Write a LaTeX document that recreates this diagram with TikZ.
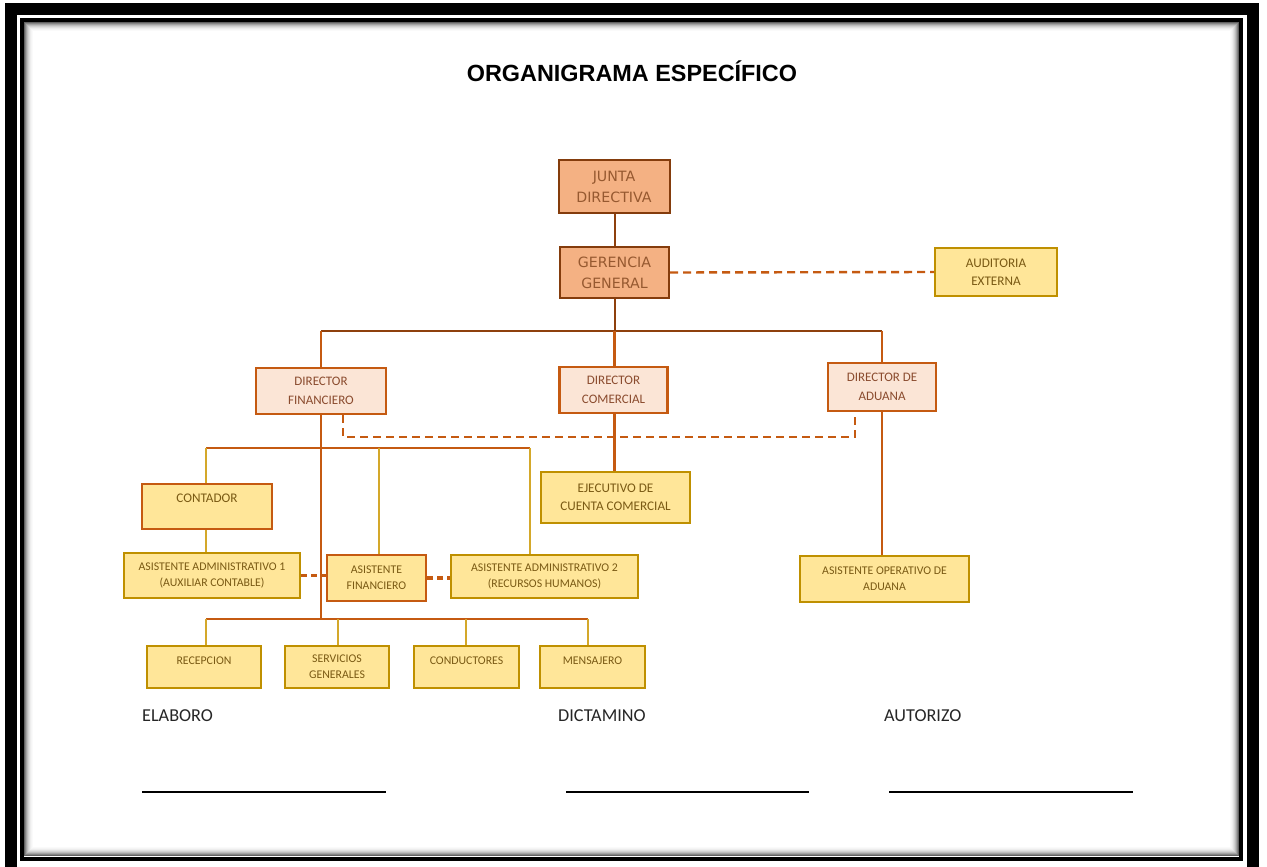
\documentclass[tikz,border=0pt]{standalone}
\usepackage{fontspec}
\setmainfont{Carlito}
\newfontfamily\titlefont{Liberation Sans}
\newfontfamily\handfont{DejaVu Sans}
\usetikzlibrary{calc}

\definecolor{salmon}{HTML}{F4B183}
\definecolor{rust}{HTML}{843C0C}
\definecolor{peach}{HTML}{FBE5D6}
\definecolor{burnt}{HTML}{C55A11}
\definecolor{butter}{HTML}{FFE699}
\definecolor{gold}{HTML}{BF9000}
\definecolor{thingold}{HTML}{D4A82A}
\definecolor{olivetext}{HTML}{7A5A14}
\definecolor{browntext}{HTML}{8A4B2E}

\tikzset{
  headbox/.style={draw=rust, fill=salmon, line width=2pt, inner sep=0pt, align=center,
    text=rust!85, font=\handfont\fontsize{14.2}{21}\selectfont},
  dirbox/.style={draw=burnt, fill=peach, line width=2.4pt, inner sep=0pt, align=center,
    text=browntext, font=\fontsize{13}{19}\selectfont},
  unitbox/.style={draw=gold, fill=butter, line width=2pt, inner sep=0pt, align=center,
    text=olivetext, font=\fontsize{11.8}{16}\selectfont},
  bigunit/.style={unitbox, font=\fontsize{13.2}{18}\selectfont},
  rustline/.style={draw=rust!85!burnt, line width=2pt},
  orangeline/.style={draw=burnt, line width=2.2pt},
  goldline/.style={draw=thingold, line width=1.2pt},
  dashlink/.style={draw=burnt, line width=2.4pt, dash pattern=on 8pt off 5pt},
  shortdash/.style={draw=burnt, line width=3.5pt, dash pattern=on 6pt off 4pt},
  signtext/.style={anchor=base west, inner sep=0pt, font=\fontsize{18.2}{20}\selectfont, text=black!85},
  signline/.style={draw=black, line width=2pt}
}

\begin{document}
\begin{tikzpicture}[x=1pt,y=-1pt]
\useasboundingbox (0,0) rectangle (1267,867);
\fill[white] (0,0) rectangle (1267,867);

% page frame: heavy outer band, thin inner rule with a soft inner shadow
\draw[line width=12pt] (11,9) rectangle (1253,874);
\draw[line width=4pt] (22,20) rectangle (1241,858.5);
\foreach \i/\g in {1/62,2/48,3/36,4/26,5/18,6/12,7/7,8/4,9/2}{
  \draw[line width=1.1pt, black!\g] (23.5+\i,21.5+\i) rectangle (1239.5-\i,856.5-\i);
}

% title
\node[font=\titlefont\bfseries\fontsize{23.4}{27}\selectfont] (title) at (632,71) {ORGANIGRAMA ESPECÍFICO};

% top management
\node[headbox, minimum width=111pt, minimum height=53pt] (junta) at (614,186.5) {JUNTA\\DIRECTIVA};
\node[headbox, minimum width=109pt, minimum height=51pt] (gerencia) at (614.5,272.5) {GERENCIA\\GENERAL};
\node[bigunit, minimum width=122pt, minimum height=48pt] (auditoria) at (996,272) {AUDITORIA\\EXTERNA};

% directors
\node[dirbox, minimum width=130pt, minimum height=46pt] (df) at (321,391) {DIRECTOR\\FINANCIERO};
\node[dirbox, minimum width=108pt, minimum height=46pt] (dc) at (613.5,390) {DIRECTOR\\COMERCIAL};
\node[dirbox, minimum width=108pt, minimum height=48pt] (da) at (882,387) {DIRECTOR DE\\ADUANA};

% staff
\node[bigunit, draw=burnt, anchor=north, minimum width=130pt, text height=18.5pt, text depth=26.5pt] (contador) at (207,483) {CONTADOR};
\node[bigunit, minimum width=149pt, minimum height=51pt] (ejecutivo) at (615.5,497.5) {EJECUTIVO DE\\CUENTA COMERCIAL};
\node[unitbox, minimum width=176pt, minimum height=45pt] (aa1) at (212,575.5) {ASISTENTE ADMINISTRATIVO 1\\(AUXILIAR CONTABLE)};
\node[unitbox, draw=burnt, minimum width=99pt, minimum height=46pt] (af) at (376.5,578) {ASISTENTE\\FINANCIERO};
\node[unitbox, minimum width=187pt, minimum height=43pt] (aa2) at (544.5,576.5) {ASISTENTE ADMINISTRATIVO 2\\(RECURSOS HUMANOS)};
\node[unitbox, minimum width=169pt, minimum height=46pt] (ao) at (884.5,579) {ASISTENTE OPERATIVO DE\\ADUANA};

\node[unitbox, anchor=north, minimum width=114pt, text height=18pt, text depth=24pt] (recepcion) at (204,645) {RECEPCION};
\node[unitbox, minimum width=104pt, minimum height=42pt] (servicios) at (337,667) {SERVICIOS\\GENERALES};
\node[unitbox, anchor=north, minimum width=105pt, text height=18pt, text depth=24pt] (conductores) at (466.5,645) {CONDUCTORES};
\node[unitbox, anchor=north, minimum width=105pt, text height=18pt, text depth=24pt] (mensajero) at (592.5,645) {MENSAJERO};

% bus points
\coordinate (busL) at (321,331);
\coordinate (busR) at (882,331);
\coordinate (busM) at (614.5,331);
\coordinate (midL) at (206,448);
\coordinate (midA) at (379,448);
\coordinate (midR) at (530,448);
\coordinate (lowL) at (206,619);
\coordinate (lowB) at (338,619);
\coordinate (lowC) at (466,619);
\coordinate (lowR) at (588,619);
\coordinate (dfdash) at (343,437);
\coordinate (dadash) at (855,437);

% connectors
\draw[rustline] (junta.south -| busM) -- (gerencia.north -| busM);
\draw[rustline] (gerencia.south -| busM) -- (busM);
\draw[rustline] (busL) -- (busR);
\draw[orangeline] (busL) -- (df.north);
\draw[orangeline] (busM) -- (dc.north -| busM);
\draw[orangeline] (busR) -- (da.north);
\draw[dashlink] (gerencia.east) -- (auditoria.west);
\draw[dashlink] (dfdash |- df.south) -- (dfdash) -- (dadash) -- (dadash |- da.south);

\draw[orangeline] (dc.south -| busM) -- (ejecutivo.north -| busM);
\draw[orangeline] (da.south) -- (da.south |- ao.north);

\draw[orangeline] (df.south) -- (df.south |- lowL);
\draw[orangeline] (midL) -- (midR);
\draw[goldline] (midL) -- (midL |- contador.north);
\draw[goldline] (midA) -- (midA |- af.north);
\draw[goldline] (midR) -- (midR |- aa2.north);
\draw[goldline] (contador.south -| midL) -- (aa1.north -| midL);
\draw[shortdash] (aa1.east) -- (aa1.east -| af.west);
\draw[shortdash] (af.east) -- (af.east -| aa2.west);

\draw[orangeline] (lowL) -- (lowR);
\draw[goldline] (lowL) -- (lowL |- recepcion.north);
\draw[goldline] (lowB) -- (lowB |- servicios.north);
\draw[goldline] (lowC) -- (lowC |- conductores.north);
\draw[goldline] (lowR) -- (lowR |- mensajero.north);

% signatures
\node[signtext] (elaboro) at (142,721) {ELABORO};
\node[signtext] (dictamino) at (558,721) {DICTAMINO};
\node[signtext] (autorizo) at (884,721) {AUTORIZO};
\coordinate (s1a) at (142,792); \coordinate (s1b) at (386,792);
\coordinate (s2a) at (566,792); \coordinate (s2b) at (809,792);
\coordinate (s3a) at (889,792); \coordinate (s3b) at (1133,792);
\draw[signline] (s1a) -- (s1b);
\draw[signline] (s2a) -- (s2b);
\draw[signline] (s3a) -- (s3b);
\end{tikzpicture}
\end{document}
